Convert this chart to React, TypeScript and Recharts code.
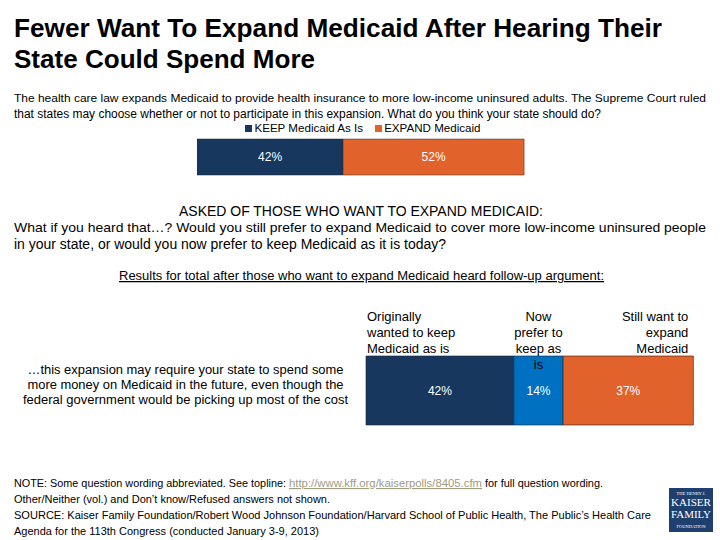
import React from 'react';
import { BarChart, Bar, XAxis, YAxis, LabelList, Legend } from 'recharts';

const FONT = '"Liberation Sans", Arial, Helvetica, sans-serif';

const NAVY = '#17375E';
const ORANGE = '#E2622B';
const BLUE = '#0070C0';

// Top chart data
const topCategories = ['Total'];
const keepValues = [42];
const expandValues = [52];
const topSeriesNames = ['KEEP Medicaid As Is', 'EXPAND Medicaid'];

// Follow-up chart data
const followCategories = ['cost'];
const followLabelLines = [
  '\u2026this expansion may require your state to spend some',
  'more money on Medicaid in the future, even though the',
  'federal government would be picking up most of the cost',
];
const originallyKeep = [42];
const nowKeep = [14];
const stillExpand = [37];
const followSeriesLabels = [
  ['Originally', 'wanted to keep', 'Medicaid as is'],
  ['Now', 'prefer to', 'keep as', 'is'],
  ['Still want to', 'expand', 'Medicaid'],
];

const topData = topCategories.map((c, i) => ({ name: c, keep: keepValues[i], expand: expandValues[i] }));
const followData = followCategories.map((c, i) => ({
  name: c,
  orig: originallyKeep[i],
  now: nowKeep[i],
  still: stillExpand[i],
}));

const pct = (v: any) => `${v}%`;

const LegendContent = (props: any) => {
  const payload = [...(props.payload || [])].sort(
    (a: any, b: any) => topSeriesNames.indexOf(a.value) - topSeriesNames.indexOf(b.value)
  );
  return (
    <div style={{ display: 'flex', justifyContent: 'center', paddingRight: 16, fontFamily: FONT, fontSize: 11.6, color: '#000', lineHeight: '16px' }}>
      {payload.map((p: any, i: number) => (
        <div key={i} style={{ display: 'flex', alignItems: 'center', marginRight: i === 0 ? 12 : 0 }}>
          <span style={{ display: 'inline-block', width: 7, height: 7, background: p.color, marginRight: 2 }} />
          <span>{p.value}</span>
        </div>
      ))}
    </div>
  );
};

const FollowTick = (props: any) => {
  const { y } = props;
  const lens = [316, 316, 325];
  return (
    <g>
      {followLabelLines.map((line, i) => (
        <text key={i} x={185.5} y={y - 17 + i * 15} textAnchor="middle" fontFamily={FONT} fontSize={12.5} fill="#000"
          textLength={lens[i]} lengthAdjust="spacingAndGlyphs">
          {line}
        </text>
      ))}
    </g>
  );
};

const makeSeriesLabel = (lines: string[], align: 'start' | 'middle' | 'end') => (props: any) => {
  const { x, y, width } = props;
  const ax = align === 'start' ? x + 1 : align === 'middle' ? x + width / 2 : x + width - 5;
  return (
    <g>
      {lines.map((l, i) => (
        <text key={i} x={ax} y={y - 35 + i * 16} textAnchor={align} fontFamily={FONT} fontSize={13} fill="#000">
          {l}
        </text>
      ))}
    </g>
  );
};

type T = { x: number; y: number; s: string; size: number; len?: number; anchor?: string; bold?: boolean; fill?: string; underline?: boolean };

const texts: T[] = [
  { x: 14, y: 37, s: 'Fewer Want To Expand Medicaid After Hearing Their', size: 25, len: 648, bold: true },
  { x: 14, y: 68, s: 'State Could Spend More', size: 25, len: 301, bold: true },
  { x: 14, y: 102, s: 'The health care law expands Medicaid to provide health insurance to more low-income uninsured adults. The Supreme Court ruled', size: 11.6, len: 692 },
  { x: 14, y: 118, s: 'that states may choose whether or not to participate in this expansion. What do you think your state should do?', size: 12, len: 587 },
  { x: 361, y: 216, s: 'ASKED OF THOSE WHO WANT TO EXPAND MEDICAID:', size: 14, len: 364, anchor: 'middle' },
  { x: 14, y: 232, s: 'What if you heard that\u2026? Would you still prefer to expand Medicaid to cover more low-income uninsured people', size: 13.5, len: 692 },
  { x: 14, y: 249, s: 'in your state, or would you now prefer to keep Medicaid as it is today?', size: 14, len: 432 },
  { x: 361.5, y: 280, s: 'Results for total after those who want to expand Medicaid heard follow-up argument:', size: 12.5, len: 485, anchor: 'middle', underline: true },
  { x: 14, y: 487, s: 'NOTE: Some question wording abbreviated. See topline:', size: 11, len: 272 },
  { x: 289, y: 487, s: 'http://www.kff.org/kaiserpolls/8405.cfm', size: 11, len: 193, fill: '#A09C80', underline: true },
  { x: 485, y: 487, s: 'for full question wording.', size: 11, len: 118 },
  { x: 14, y: 503, s: 'Other/Neither (vol.) and Don\u2019t know/Refused answers not shown.', size: 11, len: 316 },
  { x: 14, y: 519, s: 'SOURCE: Kaiser Family Foundation/Robert Wood Johnson Foundation/Harvard School of Public Health, The Public\u2019s Health Care', size: 11, len: 637 },
  { x: 14, y: 535, s: 'Agenda for the 113th Congress (conducted January 3-9, 2013)', size: 11, len: 305 },
];

export default function App() {
  return (
    <div style={{ position: 'absolute', left: 0, top: 0, width: 720, height: 540, background: '#fff', overflow: 'hidden', fontFamily: FONT }}>
      {/* Top chart */}
      <div style={{ position: 'absolute', left: 197, top: 120, width: 348, height: 56 }}>
        <BarChart width={348} height={56} data={topData} layout="vertical" margin={{ top: 3, right: 0, bottom: 1, left: 0 }} barCategoryGap={0}>
          <XAxis type="number" domain={[0, 100]} hide />
          <YAxis type="category" dataKey="name" hide />
          <Legend verticalAlign="top" align="center" height={16} content={<LegendContent />} wrapperStyle={{ top: 0, left: 0, width: 348 }} />
          <Bar dataKey="keep" name={topSeriesNames[0]} stackId="a" fill={NAVY} stroke="#1b2530" strokeWidth={0.5} isAnimationActive={false}>
            <LabelList dataKey="keep" position="center" formatter={pct} fill="#fff" fontSize={12} fontFamily={FONT} />
          </Bar>
          <Bar dataKey="expand" name={topSeriesNames[1]} stackId="a" fill={ORANGE} stroke="#4a2a1a" strokeWidth={0.5} isAnimationActive={false}>
            <LabelList dataKey="expand" position="center" formatter={pct} fill="#fff" fontSize={12} fontFamily={FONT} />
          </Bar>
        </BarChart>
      </div>

      {/* Follow-up chart */}
      <div style={{ position: 'absolute', left: 0, top: 300, width: 718, height: 126 }}>
        <BarChart width={718} height={126} data={followData} layout="vertical" margin={{ top: 56, right: 0, bottom: 1, left: 0 }} barCategoryGap={0}>
          <XAxis type="number" domain={[0, 100]} hide />
          <YAxis type="category" dataKey="name" width={366} axisLine={false} tickLine={false} tick={<FollowTick />} />
          <Bar dataKey="orig" stackId="a" fill={NAVY} stroke="#1b2530" strokeWidth={0.6} isAnimationActive={false}>
            <LabelList dataKey="orig" position="center" formatter={pct} fill="#fff" fontSize={12} fontFamily={FONT} />
            <LabelList dataKey="orig" content={makeSeriesLabel(followSeriesLabels[0], 'start')} />
          </Bar>
          <Bar dataKey="now" stackId="a" fill={BLUE} stroke="#1b2530" strokeWidth={0.6} isAnimationActive={false}>
            <LabelList dataKey="now" position="center" formatter={pct} fill="#fff" fontSize={12} fontFamily={FONT} />
            <LabelList dataKey="now" content={makeSeriesLabel(followSeriesLabels[1], 'middle')} />
          </Bar>
          <Bar dataKey="still" stackId="a" fill={ORANGE} stroke="#2a1d16" strokeWidth={0.6} isAnimationActive={false}>
            <LabelList dataKey="still" position="center" formatter={pct} fill="#fff" fontSize={12} fontFamily={FONT} />
            <LabelList dataKey="still" content={makeSeriesLabel(followSeriesLabels[2], 'end')} />
          </Bar>
        </BarChart>
      </div>

      {/* Text overlay */}
      <svg width={720} height={540} style={{ position: 'absolute', left: 0, top: 0, pointerEvents: 'none' }}>
        {texts.map((t, i) => (
          <text key={i} x={t.x} y={t.y} fontFamily={FONT} fontSize={t.size} fontWeight={t.bold ? 700 : 400}
            fill={t.fill || '#000'} textAnchor={t.anchor || 'start'} textLength={t.len} lengthAdjust="spacingAndGlyphs"
            style={t.underline ? { textDecoration: 'underline' } : undefined}>
            {t.s}
          </text>
        ))}
        <g>
          <rect x={669} y={488} width={44} height={44} fill="#1F3F6E" />
          <text x={691} y={495} textAnchor="middle" fontFamily="Liberation Serif, serif" fontSize={4.5} fill="#fff">THE HENRY J.</text>
          <text x={691} y={506} textAnchor="middle" fontFamily="Liberation Serif, serif" fontSize={10.5} fill="#fff" textLength={40} lengthAdjust="spacingAndGlyphs">KAISER</text>
          <text x={691} y={518} textAnchor="middle" fontFamily="Liberation Serif, serif" fontSize={10.5} fill="#fff" textLength={40} lengthAdjust="spacingAndGlyphs">FAMILY</text>
          <text x={691} y={528} textAnchor="middle" fontFamily="Liberation Serif, serif" fontSize={4.5} fill="#fff">FOUNDATION</text>
        </g>
      </svg>
    </div>
  );
}
